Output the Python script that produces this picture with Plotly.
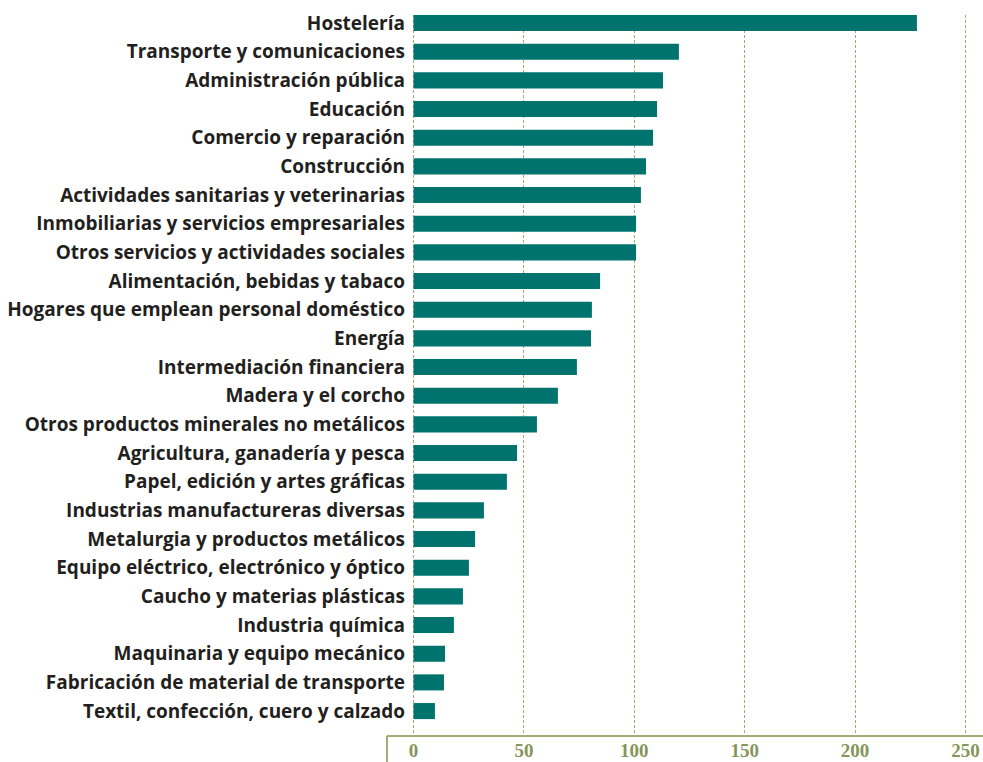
import plotly.graph_objects as go

categories = [
    "Hostelería",
    "Transporte y comunicaciones",
    "Administración pública",
    "Educación",
    "Comercio y reparación",
    "Construcción",
    "Actividades sanitarias y veterinarias",
    "Inmobiliarias y servicios empresariales",
    "Otros servicios y actividades sociales",
    "Alimentación, bebidas y tabaco",
    "Hogares que emplean personal doméstico",
    "Energía",
    "Intermediación financiera",
    "Madera y el corcho",
    "Otros productos minerales no metálicos",
    "Agricultura, ganadería y pesca",
    "Papel, edición y artes gráficas",
    "Industrias manufactureras diversas",
    "Metalurgia y productos metálicos",
    "Equipo eléctrico, electrónico y óptico",
    "Caucho y materias plásticas",
    "Industria química",
    "Maquinaria y equipo mecánico",
    "Fabricación de material de transporte",
    "Textil, confección, cuero y calzado",
]

values = [228.0, 120.2, 113.0, 110.3, 108.5, 105.3, 103.0, 100.8, 100.8,
          84.5, 80.8, 80.4, 74.0, 65.4, 55.9, 46.9, 42.3, 31.9, 27.9,
          25.1, 22.4, 18.3, 14.3, 13.8, 9.7]

tick_values = [0, 50, 100, 150, 200, 250]
tick_labels = ["0", "50", "100", "150", "200", "250"]

BAR = "#00736f"
OLIVE = "#a3ab77"
TICK = "#86955a"

fig = go.Figure(go.Bar(
    x=values, y=categories, orientation="h",
    marker=dict(color=BAR, line=dict(width=0)),
    width=0.56,
    hoverinfo="skip",
))

W, H = 983, 762
ml, mr, mt, mb = 409, 0, 15, 26
pw = W - ml - mr
ph = H - mt - mb
ax_left = 387

x0px = 413.5
scale = 2.208

fig.update_layout(
    width=W, height=H,
    margin=dict(l=ml, r=mr, t=mt, b=mb, pad=0),
    plot_bgcolor="white", paper_bgcolor="white",
    showlegend=False,
    bargap=0.44,
    xaxis=dict(
        range=[(ml - x0px) / scale, (W - mr - x0px) / scale],
        tickvals=tick_values, ticktext=tick_labels,
        showgrid=True, gridcolor=OLIVE, gridwidth=1, griddash="3px,2px",
        zeroline=False, showline=False, ticks="",
        tickfont=dict(family="Liberation Serif", size=19, color=TICK, weight="bold"),
        ticklabelstandoff=1,
        ticklabeloverflow="allow",
        fixedrange=True,
    ),
    yaxis=dict(
        type="category",
        range=[24.87, -0.28],
        showgrid=False, zeroline=False, showline=False, ticks="",
        tickfont=dict(family="Open Sans", size=19, color="#231f20", weight="bold"),
        ticklabelstandoff=3,
        fixedrange=True,
    ),
    shapes=[
        dict(type="line", xref="paper", yref="paper",
             x0=(ax_left - ml) / pw, x1=1, y0=0, y1=0,
             line=dict(color=OLIVE, width=2)),
        dict(type="line", xref="paper", yref="paper",
             x0=(ax_left - ml) / pw, x1=(ax_left - ml) / pw, y0=0, y1=-mb / ph,
             line=dict(color=OLIVE, width=2)),
    ],
)

fig.write_html(
    "out.html",
    config={"displayModeBar": False},
    post_script="document.body.style.margin='0';document.body.style.overflow='hidden';",
)
